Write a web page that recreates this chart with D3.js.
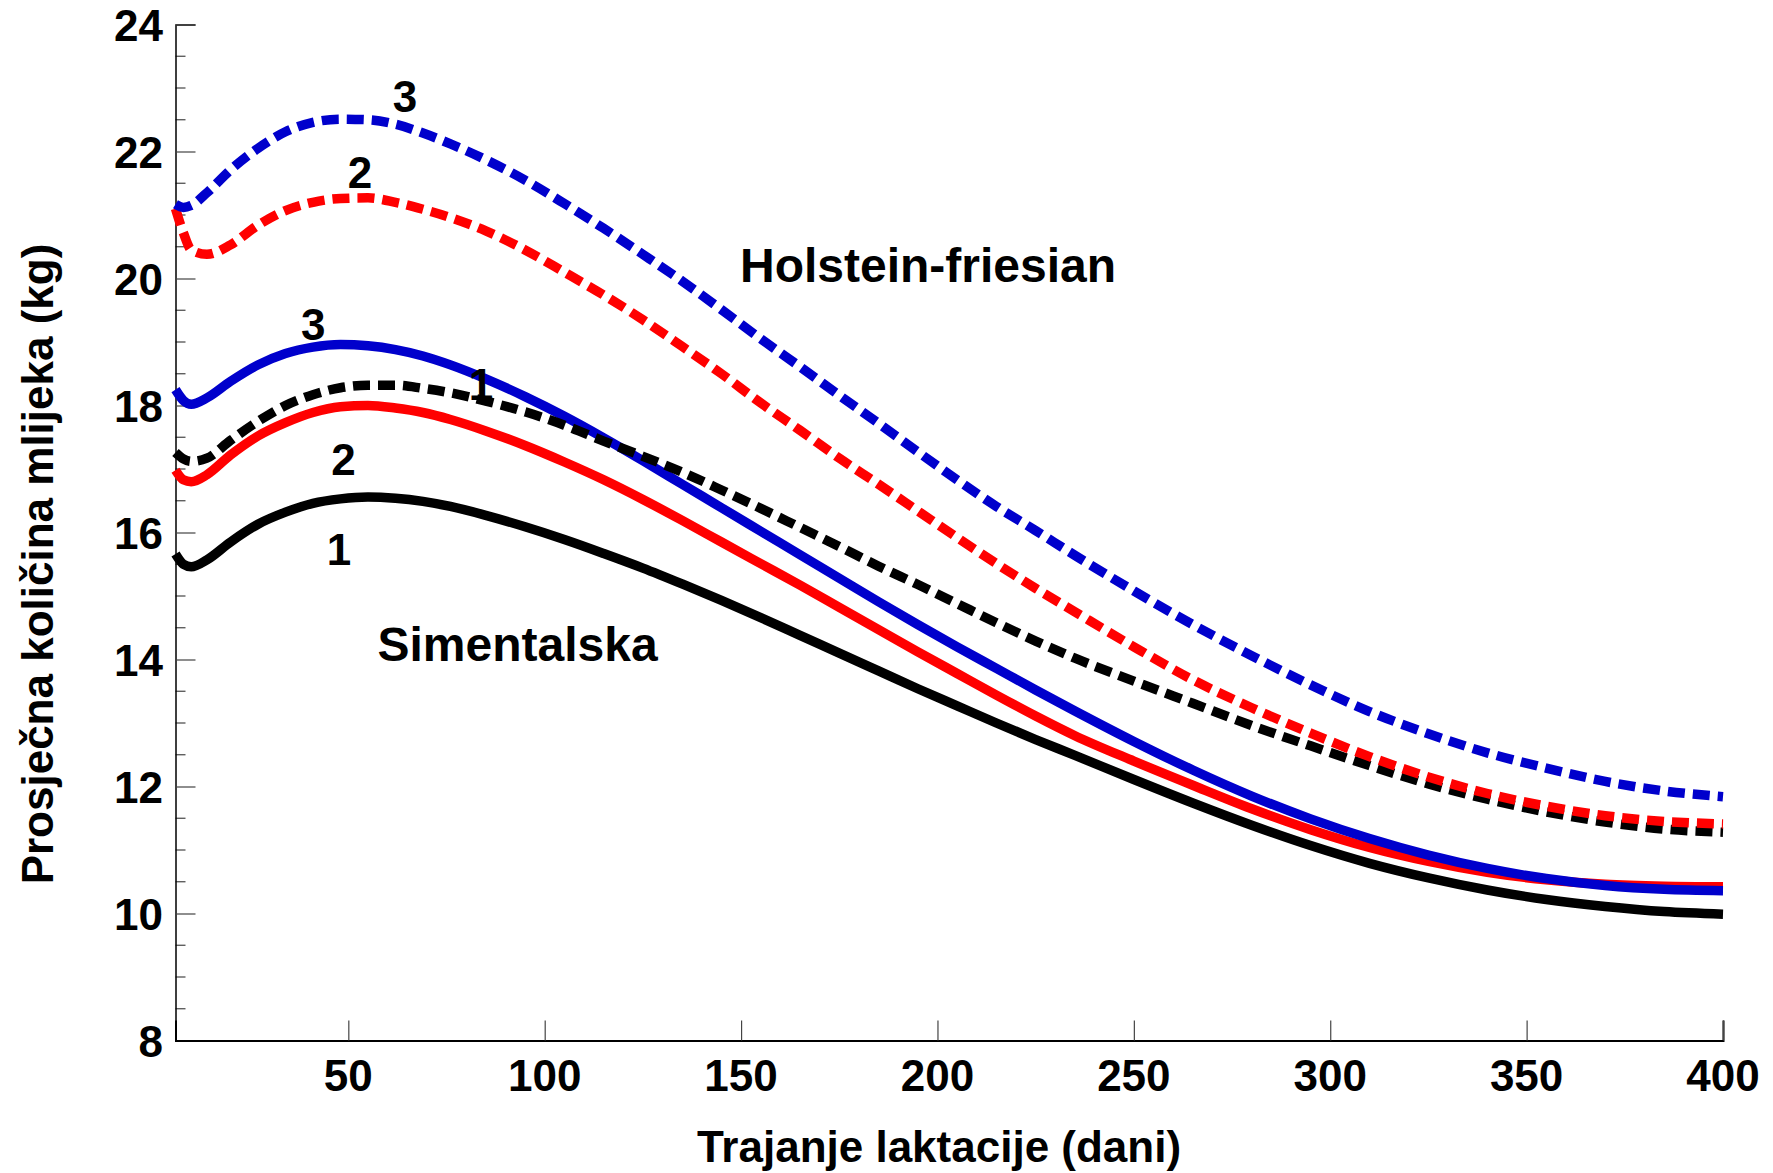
<!DOCTYPE html>
<html>
<head>
<meta charset="utf-8">
<script src="https://cdn.jsdelivr.net/npm/d3@7"></script>
<style>
  body { margin: 0; background: #fff; }
  svg text { font-family: "Liberation Sans", Arial, sans-serif; font-weight: bold; fill: #000; }
</style>
</head>
<body>
<svg id="chart" width="1773" height="1173"></svg>
<script>
// Lactation day (x) and average daily milk yield in kg (y)
const days = [6, 8, 10, 14, 20, 27, 34, 41, 48, 55, 62, 69, 76, 85, 95, 105, 115, 125, 135, 145,
    155, 165, 175, 185, 195, 205, 215, 225, 235, 250, 265, 280, 295, 310, 325, 340, 355, 370, 385, 400];

// Simentalska, parity 1..3 (solid)
const sim1 = [15.66, 15.50, 15.46, 15.57, 15.85, 16.13, 16.32, 16.46, 16.53, 16.56, 16.54, 16.49, 16.41, 16.27, 16.09, 15.89, 15.67, 15.44, 15.19, 14.93,
    14.66, 14.38, 14.10, 13.82, 13.54, 13.27, 13.00, 12.74, 12.49, 12.11, 11.74, 11.39, 11.07, 10.79, 10.56, 10.37, 10.22, 10.11, 10.03, 9.99];
const sim2 = [16.98, 16.83, 16.80, 16.91, 17.22, 17.52, 17.73, 17.89, 17.98, 18.00, 17.96, 17.89, 17.78, 17.60, 17.37, 17.11, 16.83, 16.52, 16.19, 15.85,
    15.51, 15.17, 14.82, 14.47, 14.12, 13.78, 13.44, 13.11, 12.80, 12.40, 12.02, 11.65, 11.32, 11.04, 10.82, 10.65, 10.53, 10.46, 10.43, 10.42];
const sim3 = [18.25, 18.08, 18.02, 18.12, 18.38, 18.64, 18.82, 18.92, 18.96, 18.94, 18.88, 18.78, 18.64, 18.42, 18.14, 17.83, 17.49, 17.13, 16.76, 16.39,
    16.02, 15.65, 15.28, 14.91, 14.55, 14.20, 13.86, 13.52, 13.19, 12.71, 12.26, 11.85, 11.49, 11.18, 10.92, 10.71, 10.55, 10.44, 10.38, 10.36];

// Holstein-friesian, parity 1..3 (dashed)
const hf1 = [17.26, 17.16, 17.12, 17.17, 17.45, 17.75, 18.00, 18.17, 18.28, 18.32, 18.32, 18.27, 18.20, 18.07, 17.90, 17.69, 17.44, 17.20, 16.95, 16.67,
    16.38, 16.08, 15.78, 15.47, 15.18, 14.88, 14.58, 14.29, 14.02, 13.66, 13.31, 12.96, 12.64, 12.33, 12.04, 11.80, 11.60, 11.44, 11.33, 11.28];
const hf2 = [21.10, 20.72, 20.45, 20.38, 20.53, 20.84, 21.07, 21.20, 21.26, 21.27, 21.20, 21.09, 20.96, 20.75, 20.45, 20.10, 19.74, 19.35, 18.93, 18.50,
    18.04, 17.61, 17.17, 16.76, 16.34, 15.92, 15.51, 15.12, 14.75, 14.20, 13.68, 13.24, 12.84, 12.47, 12.15, 11.89, 11.69, 11.54, 11.45, 11.41];
const hf3 = [21.17, 21.12, 21.15, 21.35, 21.71, 22.05, 22.31, 22.46, 22.51, 22.50, 22.43, 22.29, 22.12, 21.87, 21.55, 21.18, 20.79, 20.38, 19.96, 19.51,
    19.05, 18.61, 18.16, 17.72, 17.27, 16.83, 16.41, 16.03, 15.64, 15.08, 14.55, 14.06, 13.60, 13.18, 12.83, 12.53, 12.29, 12.08, 11.93, 11.84];

const xTicks = [50, 100, 150, 200, 250, 300, 350, 400];
const yTicks = [8, 10, 12, 14, 16, 18, 20, 22, 24];

// Curve labels: [text, day, kg]
const curveLabels = [
    ['3', 64.4, 22.87],
    ['2', 53, 21.68],
    ['3', 41.1, 19.28],
    ['1', 83.8, 18.34],
    ['2', 48.8, 17.16],
    ['1', 47.6, 15.74]
];

const svg = d3.select('#chart');

const x = d3.scaleLinear().domain([6, 400]).range([175.5, 1723]);
const y = d3.scaleLinear().domain([8, 24]).range([1040.5, 24.5]);

// Series in drawing order (solids first, dashed on top)
const series = [
    { values: sim1, color: '#000000', dash: null },
    { values: sim2, color: '#ff0000', dash: null },
    { values: sim3, color: '#0000cc', dash: null },
    { values: hf1, color: '#000000', dash: '17,8' },
    { values: hf2, color: '#ff0000', dash: '17,8' },
    { values: hf3, color: '#0000cc', dash: '17,8' }
];

// Minor y ticks every 0.5
const minor = d3.range(8.5, 24, 0.5).filter(v => v % 2 !== 0);
svg.append('g')
    .selectAll('line')
    .data(minor)
    .join('line')
    .attr('x1', x(6))
    .attr('x2', x(6) + 10)
    .attr('y1', d => y(d))
    .attr('y2', d => y(d))
    .attr('stroke', '#444')
    .attr('stroke-width', 1.2);

// Y axis
const yAxis = svg.append('g')
    .attr('transform', `translate(${x(6)},0)`)
    .call(d3.axisRight(y).tickValues(yTicks).tickSize(20).tickFormat(''));
yAxis.select('.domain').attr('stroke', '#000').attr('stroke-width', 1.5);
yAxis.selectAll('.tick line').attr('stroke', '#444').attr('stroke-width', 1.2);

svg.append('g')
    .selectAll('text')
    .data(yTicks)
    .join('text')
    .attr('x', 163)
    .attr('y', d => y(d))
    .attr('dy', '0.38em')
    .attr('text-anchor', 'end')
    .style('font-size', '44px')
    .text(d => d);

// X axis
const xAxis = svg.append('g')
    .attr('transform', `translate(0,${y(8)})`)
    .call(d3.axisTop(x).tickValues(xTicks).tickSize(20).tickFormat(''));
xAxis.select('.domain').attr('stroke', '#000').attr('stroke-width', 2);
xAxis.selectAll('.tick line').attr('stroke', '#444').attr('stroke-width', 1.2);

svg.append('g')
    .selectAll('text')
    .data(xTicks)
    .join('text')
    .attr('x', d => x(d))
    .attr('y', y(8) + 50)
    .attr('text-anchor', 'middle')
    .style('font-size', '44px')
    .text(d => d);

// Axis titles
svg.append('text')
    .attr('x', 939)
    .attr('y', 1162)
    .attr('text-anchor', 'middle')
    .style('font-size', '44px')
    .text('Trajanje laktacije (dani)');

svg.append('text')
    .attr('transform', 'translate(53,564) rotate(-90)')
    .attr('text-anchor', 'middle')
    .style('font-size', '44px')
    .text('Prosječna količina mlijeka (kg)');

// Curves
const line = d3.line()
    .x((d, i) => x(days[i]))
    .y(d => y(d))
    .curve(d3.curveMonotoneX);

series.forEach(s => {
    svg.append('path')
        .datum(s.values)
        .attr('d', line)
        .attr('fill', 'none')
        .attr('stroke', s.color)
        .attr('stroke-width', 9.5)
        .attr('stroke-dasharray', s.dash);
});

// Curve labels
svg.append('g')
    .selectAll('text')
    .data(curveLabels)
    .join('text')
    .attr('x', d => x(d[1]))
    .attr('y', d => y(d[2]))
    .attr('dy', '0.36em')
    .attr('text-anchor', 'middle')
    .style('font-size', '44px')
    .text(d => d[0]);

// Breed labels
svg.append('text')
    .attr('x', x(197.6))
    .attr('y', y(19.95))
    .attr('text-anchor', 'middle')
    .style('font-size', '48px')
    .text('Holstein-friesian');

svg.append('text')
    .attr('x', x(93.1))
    .attr('y', y(13.98))
    .attr('text-anchor', 'middle')
    .style('font-size', '48px')
    .text('Simentalska');
</script>
</body>
</html>
